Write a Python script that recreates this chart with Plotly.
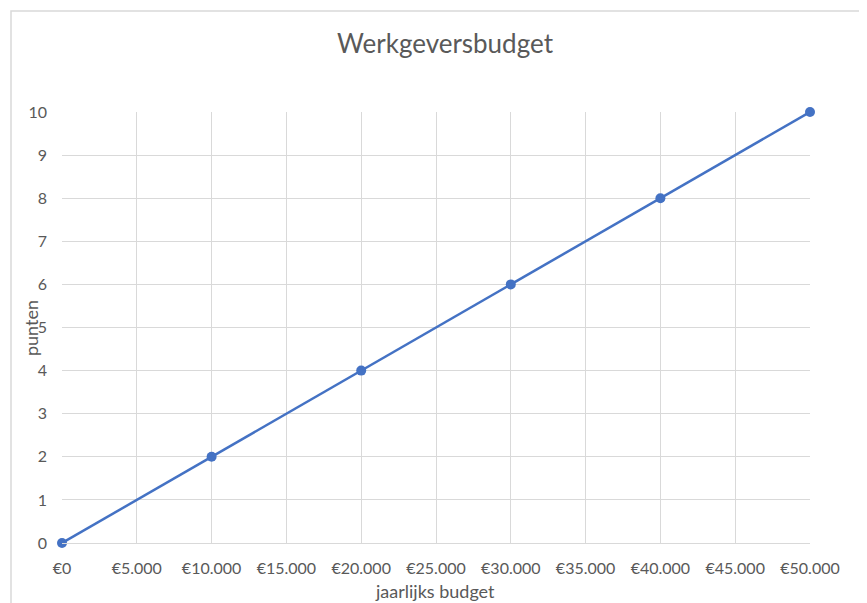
import plotly.graph_objects as go

budget = [0, 10000, 20000, 30000, 40000, 50000]
punten = [0, 2, 4, 6, 8, 10]
x_tick_vals = [0, 5000, 10000, 15000, 20000, 25000, 30000, 35000, 40000, 45000, 50000]
x_tick_text = ["€0", "€5.000", "€10.000", "€15.000", "€20.000", "€25.000",
               "€30.000", "€35.000", "€40.000", "€45.000", "€50.000"]

FONT = "Lato, Open Sans, sans-serif"
GRAY = "#595959"
GRID = "#d9d9d9"

OFF = 8  # page body margin offset
W, H = 867, 603
L, R, T, B = 62 - OFF, W - 810 + OFF, 112 - OFF, H - 543 + OFF
pw, ph = 810 - 62, 543 - 112

fig = go.Figure()
fig.add_trace(go.Scatter(
    x=budget, y=punten, mode="lines+markers",
    line=dict(color="#4472C4", width=2.5),
    marker=dict(color="#4472C4", size=10),
    cliponaxis=False, showlegend=False,
))

fig.update_layout(
    width=W, height=H,
    margin=dict(l=L, r=R, t=T, b=B),
    paper_bgcolor="white", plot_bgcolor="white",
    title=dict(text="Werkgeversbudget", x=(445 - OFF) / W, xanchor="center",
               y=1 - (44 - OFF) / H, yanchor="middle",
               font=dict(family=FONT, size=26, color=GRAY)),
    xaxis=dict(range=[0, 50000], tickvals=x_tick_vals, ticktext=x_tick_text,
               showgrid=True, gridcolor=GRID, gridwidth=1,
               zeroline=False, showline=True, linecolor=GRID, linewidth=1,
               mirror=False, ticks="", ticklabelstandoff=11,
               tickfont=dict(family=FONT, size=16, color=GRAY)),
    yaxis=dict(range=[0, 10], dtick=1, tick0=0,
               showgrid=True, gridcolor=GRID, gridwidth=1,
               zeroline=False, showline=False, ticks="", ticklabelstandoff=14,
               tickfont=dict(family=FONT, size=16, color=GRAY)),
    annotations=[
        dict(text="jaarlijks budget", xref="paper", yref="paper",
             x=(435 - 62) / pw, y=(543 - 591) / ph, xanchor="center", yanchor="middle",
             showarrow=False, font=dict(family=FONT, size=18, color=GRAY)),
        dict(text="punten", xref="paper", yref="paper", textangle=-90,
             x=(31 - 62) / pw, y=(543 - 328) / ph, xanchor="center", yanchor="middle",
             showarrow=False, font=dict(family=FONT, size=18, color=GRAY)),
    ],
)

# outer chart border (cropped Excel chart area)
fig.add_shape(type="rect", xref="paper", yref="paper",
              x0=(11 - 62) / pw, x1=2.0, y0=-0.5, y1=1 + (112 - 11) / ph,
              line=dict(color=GRID, width=1.5), fillcolor="rgba(0,0,0,0)",
              layer="below")

fig.write_html("out.html")
